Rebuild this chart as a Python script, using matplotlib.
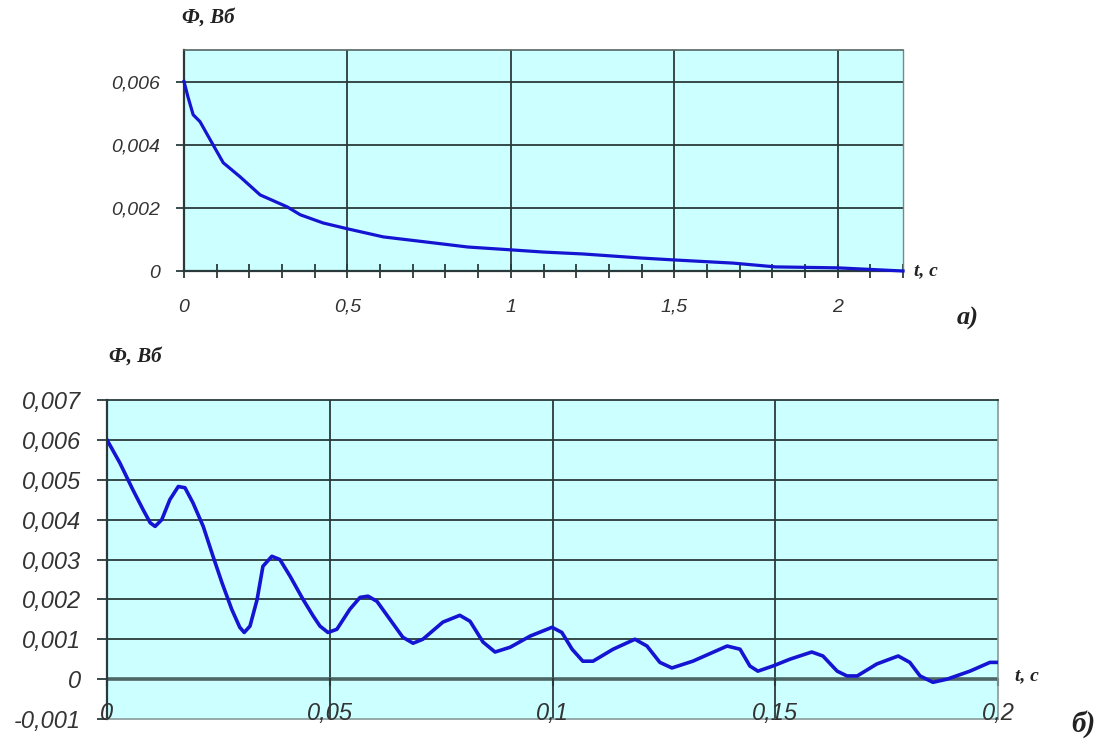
import matplotlib
matplotlib.use('Agg')
import matplotlib.pyplot as plt

# --- данные, график а) ---
t_a = [0, 0.012, 0.028, 0.049, 0.08, 0.12, 0.172, 0.233, 0.316, 0.356, 0.426, 0.503,
       0.61, 0.764, 0.868, 1.0, 1.10, 1.22, 1.40, 1.50, 1.68, 1.81, 2.0, 2.2]
phi_a = [0.006, 0.00552, 0.00495, 0.00473, 0.00416, 0.00343, 0.00298, 0.00241, 0.00203,
         0.00178, 0.00152, 0.00133, 0.00108, 0.00089, 0.00076, 0.00067, 0.0006, 0.00054,
         0.00041, 0.00035, 0.00025, 0.00013, 0.0001, 0.0]
xt_a = [0, 0.5, 1, 1.5, 2]
xt_a_lab = ['0', '0,5', '1', '1,5', '2']
yt_a = [0, 0.002, 0.004, 0.006]
yt_a_lab = ['0', '0,002', '0,004', '0,006']

# --- данные, график б) ---
t_b = [0, 0.0029, 0.0058, 0.0081, 0.0097, 0.0108, 0.0123, 0.0141, 0.016, 0.0175,
       0.0193, 0.0216, 0.0238, 0.0258, 0.028, 0.0298, 0.0308, 0.0321, 0.0337, 0.035,
       0.037, 0.0388, 0.0411, 0.044, 0.0463, 0.0478, 0.0496, 0.0516, 0.0545, 0.0568,
       0.0586, 0.0606, 0.0635, 0.0664, 0.0687, 0.0709, 0.0754, 0.0792, 0.0815, 0.0844,
       0.0871, 0.0905, 0.095, 0.0999, 0.1021, 0.1044, 0.1068, 0.1091, 0.1136, 0.1185,
       0.1212, 0.1241, 0.1268, 0.1315, 0.1392, 0.1421, 0.1443, 0.1461, 0.1495, 0.1533,
       0.1582, 0.1607, 0.1639, 0.1661, 0.1684, 0.1728, 0.1776, 0.1802, 0.1825, 0.1854,
       0.1886, 0.1937, 0.1982, 0.2]
phi_b = [0.006, 0.00542, 0.00475, 0.00425, 0.00392, 0.00383, 0.004, 0.0045, 0.00483, 0.0048,
         0.00442, 0.00383, 0.00308, 0.00242, 0.00175, 0.0013, 0.00117, 0.00133, 0.002, 0.00283,
         0.00308, 0.003, 0.00258, 0.002, 0.00158, 0.00133, 0.00117, 0.00125, 0.00175, 0.00205,
         0.00208, 0.00195, 0.0015, 0.00105, 0.0009, 0.001, 0.00143, 0.0016, 0.00145, 0.00093,
         0.00068, 0.0008, 0.00108, 0.0013, 0.00117, 0.00075, 0.00045, 0.00045, 0.00075, 0.001,
         0.00083, 0.00042, 0.00028, 0.00045, 0.00083, 0.00075, 0.00033, 0.0002, 0.00033, 0.0005,
         0.00068, 0.00058, 0.0002, 0.00008, 0.00008, 0.00038, 0.00058, 0.00042, 0.00008, -0.00008,
         0.0, 0.0002, 0.00042, 0.00042]
xt_b = [0, 0.05, 0.1, 0.15, 0.2]
xt_b_lab = ['0', '0,05', '0,1', '0,15', '0,2']
yt_b = [-0.001, 0, 0.001, 0.002, 0.003, 0.004, 0.005, 0.006, 0.007]
yt_b_lab = ['-0,001', '0', '0,001', '0,002', '0,003', '0,004', '0,005', '0,006', '0,007']

bg = '#ccffff'
line_col = '#1414d2'
grid_col = '#2a3a3a'
tick_font = {'family': 'Liberation Sans', 'style': 'italic', 'color': '#333333'}
lab_font = {'family': 'Liberation Serif', 'style': 'italic', 'weight': 'bold', 'color': '#222222'}

fig = plt.figure(figsize=(11.09, 7.43), dpi=100)

# ---------------- а) ----------------
ax1 = fig.add_axes([184/1109, 1-271/743, 719/1109, 221/743])
ax1.set_facecolor(bg)
ax1.set_xlim(0, 2.2)
ax1.set_ylim(0, 0.007)
for v in [0.5, 1, 1.5, 2]:
    ax1.axvline(v, color=grid_col, lw=1.3, zorder=1)
for v in [0.002, 0.004, 0.006]:
    ax1.axhline(v, color=grid_col, lw=1.3, zorder=1)
ax1.plot(t_a, phi_a, color=line_col, lw=2.3, zorder=3, solid_joinstyle='round', clip_on=False)
ax1.spines['left'].set_color(grid_col)
ax1.spines['left'].set_linewidth(1.6)
ax1.spines['bottom'].set_color(grid_col)
ax1.spines['bottom'].set_linewidth(1.6)
ax1.spines['top'].set_color('#556666')
ax1.spines['top'].set_linewidth(1.2)
ax1.spines['right'].set_color('#778888')
ax1.spines['right'].set_linewidth(1.0)
ax1.set_yticks(yt_a)
ax1.set_yticklabels(yt_a_lab, fontdict=tick_font, fontsize=14)
ax1.tick_params(axis='y', direction='out', length=6, width=1.3, color=grid_col, pad=11)
ax1.set_xticks(xt_a)
ax1.set_xticks([i / 10 for i in range(23)], minor=True)
ax1.set_xticklabels(xt_a_lab, fontdict=tick_font, fontsize=14)
ax1.tick_params(axis='x', which='both', direction='inout', length=10, width=1.3, color=grid_col, pad=15)
fig.text(182/1109, 1-18/743, 'Ф, Вб', fontdict=lab_font, fontsize=15, va='center', ha='left')
fig.text(914/1109, 1-271/743, 't, c', fontdict=lab_font, fontsize=14, va='center', ha='left')
fig.text(957/1109, 1-318/743, 'а)', fontdict=lab_font, fontsize=19, va='center', ha='left')

# ---------------- б) ----------------
ax2 = fig.add_axes([107/1109, 1-719/743, 891/1109, 319/743])
ax2.set_facecolor(bg)
ax2.set_xlim(0, 0.2)
ax2.set_ylim(-0.001, 0.007)
for v in [0.05, 0.1, 0.15]:
    ax2.axvline(v, color=grid_col, lw=1.3, zorder=1)
for v in [0.001, 0.002, 0.003, 0.004, 0.005, 0.006]:
    ax2.axhline(v, color=grid_col, lw=1.3, zorder=1)
ax2.axhline(0, color='#4d6666', lw=2.6, zorder=1)
ax2.plot(t_b, phi_b, color=line_col, lw=2.6, zorder=3, solid_joinstyle='round')
ax2.spines['left'].set_color(grid_col)
ax2.spines['left'].set_linewidth(1.6)
ax2.spines['top'].set_color(grid_col)
ax2.spines['top'].set_linewidth(1.3)
ax2.spines['bottom'].set_color('#8a9a9a')
ax2.spines['bottom'].set_linewidth(1.2)
ax2.spines['right'].set_color('#8a9a9a')
ax2.spines['right'].set_linewidth(1.2)
ax2.set_yticks(yt_b)
ax2.set_yticklabels(yt_b_lab, fontdict=tick_font, fontsize=17)
ax2.tick_params(axis='y', direction='out', length=7, width=1.3, color=grid_col, pad=12)
ax2.set_xticks([])
for x, lab in zip(xt_b, xt_b_lab):
    ax2.text(x, -0.00085, lab, fontdict=tick_font, fontsize=17, ha='center', va='center', zorder=4, clip_on=False)
    ax2.plot([x, x], [0, -0.00015], color=grid_col, lw=1.5, zorder=2, clip_on=False)
fig.text(109/1109, 1-357/743, 'Ф, Вб', fontdict=lab_font, fontsize=15, va='center', ha='left')
fig.text(1015/1109, 1-676/743, 't, c', fontdict=lab_font, fontsize=14, va='center', ha='left')
fig.text(1071/1109, 1-724/743, 'б)', fontdict=lab_font, fontsize=21, va='center', ha='left')

fig.savefig('out.png', dpi=100, facecolor='white')
